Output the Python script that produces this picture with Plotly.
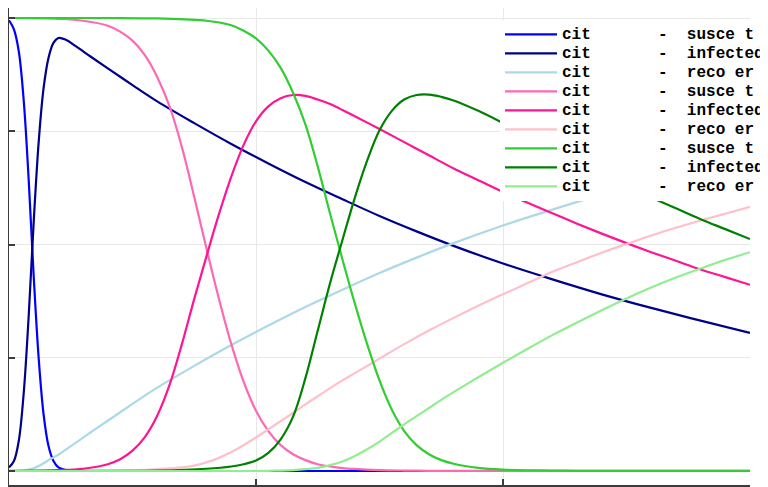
import plotly.graph_objects as go

# ---- data (fractions of population vs. days) ----
t_city1 = [0, 2, 4, 6, 8, 10, 12, 14, 16, 18, 20, 23, 27, 33, 40, 50, 60, 75, 90, 105, 120, 135,
           150, 165, 180, 200, 220, 240, 260, 280, 300]
s_city1 = [0.995, 0.975, 0.925, 0.815, 0.64, 0.43, 0.25, 0.125, 0.055, 0.022, 0.008, 0.002, 0.0005,
           0.0, 0.0, 0.0, 0.0, 0.0, 0.0, 0.0, 0.0, 0.0, 0.0, 0.0, 0.0, 0.0, 0.0, 0.0, 0.0, 0.0, 0.0]
i_city1 = [0.008, 0.022, 0.068, 0.175, 0.345, 0.55, 0.725, 0.845, 0.912, 0.945, 0.956, 0.952, 0.938,
           0.915, 0.889, 0.852, 0.816, 0.768, 0.722, 0.679, 0.638, 0.6, 0.563, 0.529, 0.497, 0.458,
           0.423, 0.39, 0.36, 0.332, 0.305]
r_city1 = [0.0, 0.0, 0.0005, 0.001, 0.003, 0.006, 0.011, 0.017, 0.024, 0.03, 0.036, 0.047, 0.062,
           0.085, 0.111, 0.148, 0.184, 0.232, 0.278, 0.321, 0.362, 0.4, 0.437, 0.471, 0.503, 0.542,
           0.577, 0.61, 0.64, 0.668, 0.695]

t_city2 = [0, 20, 30, 40, 45, 50, 55, 60, 65, 70, 75, 80, 85, 90, 95, 100, 105, 110, 115, 120, 125,
           130, 135, 140, 150, 160, 170, 180, 190, 200, 210, 220, 230, 240, 250, 260, 270, 280, 290, 300]
s_city2 = [1.0, 0.998, 0.994, 0.983, 0.97, 0.95, 0.918, 0.87, 0.805, 0.715, 0.605, 0.49, 0.38, 0.28,
           0.197, 0.133, 0.088, 0.057, 0.037, 0.024, 0.015, 0.01, 0.0065, 0.0045, 0.002, 0.001,
           0.0005, 0.0005, 0.0005, 0.0005, 0.0005, 0.0005, 0.0005, 0.0005, 0.0005, 0.0005, 0.0005,
           0.0005, 0.0005, 0.0005]
i_city2 = [0.0005, 0.002, 0.005, 0.015, 0.026, 0.045, 0.075, 0.122, 0.19, 0.28, 0.38, 0.475, 0.567,
           0.65, 0.72, 0.772, 0.805, 0.823, 0.83, 0.828, 0.82, 0.81, 0.797, 0.783, 0.755, 0.726, 0.697,
           0.668, 0.642, 0.616, 0.592, 0.569, 0.546, 0.524, 0.503, 0.483, 0.464, 0.445, 0.428, 0.411]
r_city2 = [0.0, 0.0, 0.0, 0.0005, 0.001, 0.0015, 0.0025, 0.004, 0.006, 0.008, 0.012, 0.019, 0.029,
           0.042, 0.057, 0.074, 0.092, 0.11, 0.128, 0.147, 0.165, 0.183, 0.2, 0.216, 0.248, 0.28, 0.31,
           0.338, 0.365, 0.39, 0.415, 0.44, 0.461, 0.482, 0.501, 0.52, 0.537, 0.553, 0.568, 0.583]

t_city3 = [0, 40, 60, 80, 90, 95, 100, 105, 110, 115, 120, 125, 130, 135, 140, 145, 150, 155, 160,
           165, 170, 175, 180, 190, 200, 210, 220, 230, 240, 250, 260, 270, 280, 290, 300]
s_city3 = [1.0, 1.0, 0.999, 0.994, 0.984, 0.972, 0.955, 0.928, 0.89, 0.835, 0.765, 0.672, 0.568,
           0.467, 0.37, 0.28, 0.2, 0.135, 0.088, 0.057, 0.037, 0.024, 0.016, 0.007, 0.003, 0.0015,
           0.001, 0.0005, 0.0005, 0.0005, 0.0005, 0.0005, 0.0005, 0.0005, 0.0005]
i_city3 = [0.0, 0.0005, 0.001, 0.005, 0.01, 0.015, 0.023, 0.04, 0.07, 0.12, 0.205, 0.31, 0.415, 0.51,
           0.603, 0.685, 0.752, 0.795, 0.82, 0.83, 0.831, 0.826, 0.818, 0.795, 0.768, 0.74, 0.712,
           0.684, 0.657, 0.63, 0.604, 0.58, 0.556, 0.534, 0.512]
r_city3 = [0.0, 0.0, 0.0, 0.0, 0.0, 0.0, 0.0, 0.0005, 0.001, 0.002, 0.004, 0.007, 0.013, 0.021, 0.033,
           0.048, 0.065, 0.084, 0.103, 0.121, 0.139, 0.157, 0.174, 0.207, 0.239, 0.27, 0.3, 0.328,
           0.355, 0.381, 0.405, 0.427, 0.447, 0.466, 0.483]

legend_labels = [
    "cit       -  susce t", "cit       -  infected", "cit       -  reco er",
    "cit       -  susce t", "cit       -  infected", "cit       -  reco er",
    "cit       -  susce t", "cit       -  infected", "cit       -  reco er",
]
colors = ["#0000ff", "#00008b", "#add8e6",
          "#ff69b4", "#ff1493", "#ffc0cb",
          "#32cd32", "#008000", "#90ee90"]

x_ticks = [0, 100, 200, 300]
y_ticks = [0, 0.25, 0.5, 0.75, 1.0]

series = [
    (t_city1, s_city1), (t_city1, i_city1), (t_city1, r_city1),
    (t_city2, s_city2), (t_city2, i_city2), (t_city2, r_city2),
    (t_city3, s_city3), (t_city3, i_city3), (t_city3, r_city3),
]

fig = go.Figure()
for (tt, vv), lab, col in zip(series, legend_labels, colors):
    txt = lab.replace(" ", "\u00a0")
    fig.add_trace(go.Scatter(
        x=tt, y=vv, mode="lines",
        line=dict(color=col, width=2.2, shape="spline", smoothing=1.0),
        name='<span style="font-size:16px;font-weight:bold">' + txt + "</span>",
    ))

axis_common = dict(
    showgrid=True, gridcolor="#e8e8e8", gridwidth=1,
    zeroline=False, showline=True, linecolor="#3c3c3c", linewidth=1.5,
    ticks="inside", ticklen=6, tickwidth=1.5, tickcolor="#3c3c3c",
    showticklabels=False,
)

fig.update_layout(
    width=761, height=479,
    margin=dict(l=1, r=18, t=0, b=2),
    paper_bgcolor="white", plot_bgcolor="white",
    xaxis=dict(range=[0, 300], tickvals=x_ticks, **axis_common),
    yaxis=dict(range=[-0.0309, 1.0221], tickvals=y_ticks, **axis_common),
    legend=dict(
        x=0.663, xanchor="left", y=0.975, yanchor="top",
        bgcolor="white", borderwidth=0,
        font=dict(family="Liberation Mono", size=11.3, color="black"),
        itemwidth=52, tracegroupgap=0,
    ),
    showlegend=True,
)

fig.write_html("out.html")
